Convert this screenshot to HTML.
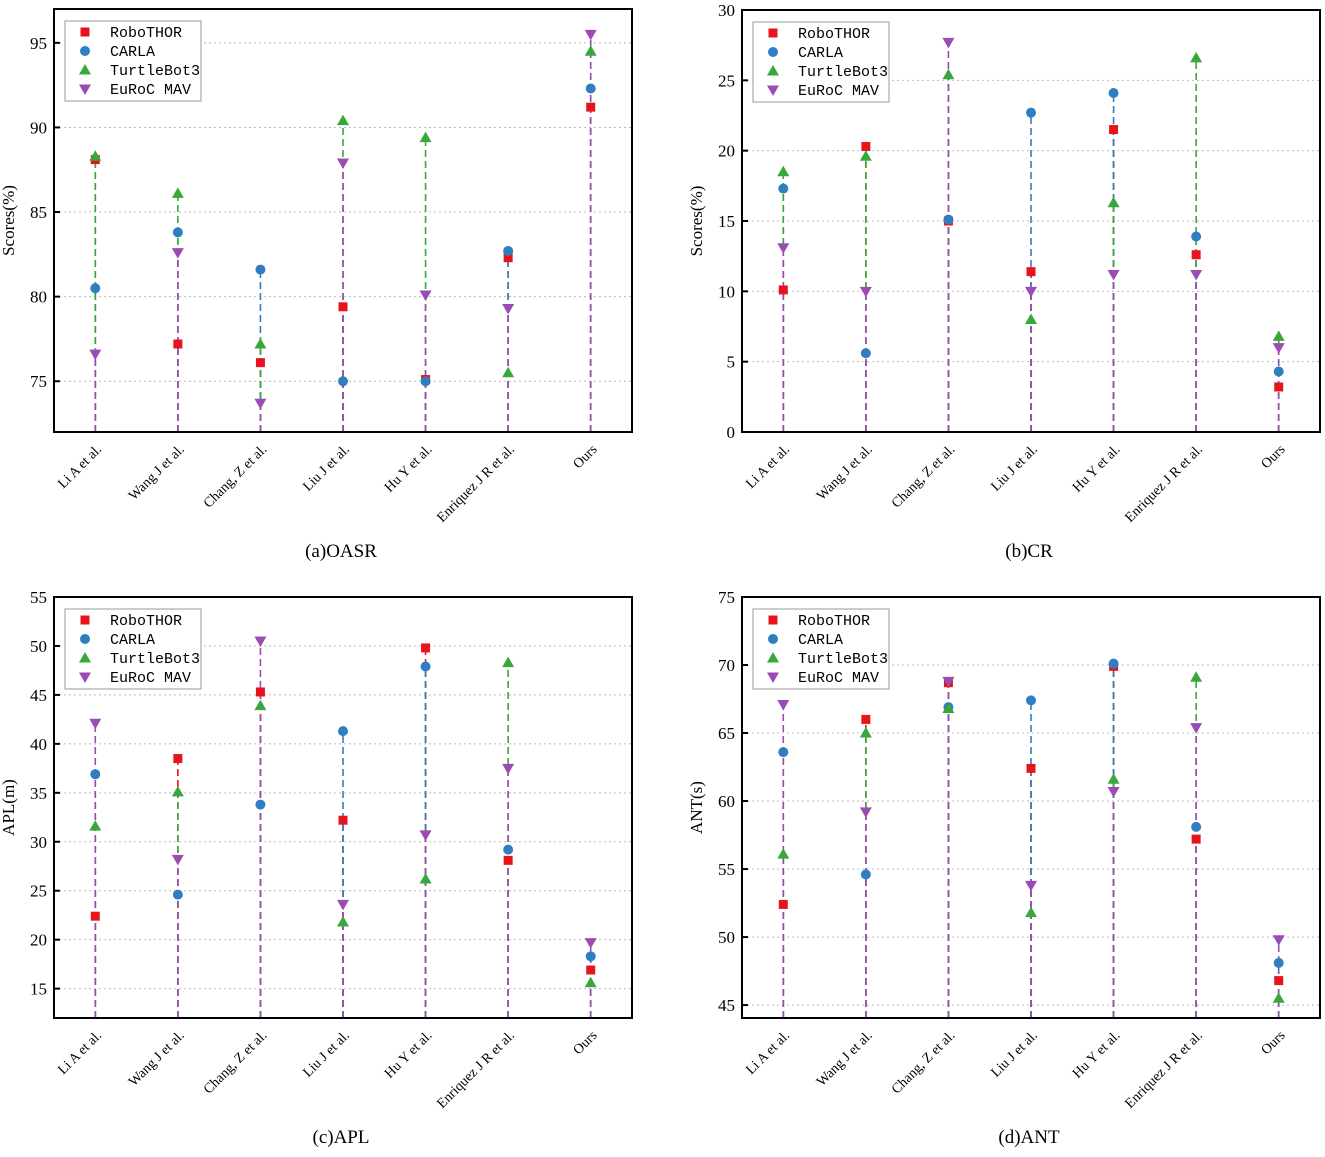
<!DOCTYPE html>
<html><head><meta charset="utf-8"><style>
body{margin:0;background:#fff;}
svg text{font-family:"Liberation Serif",serif;}
</style></head><body>
<svg id="fig" width="1325" height="1152" viewBox="0 0 1325 1152" xmlns="http://www.w3.org/2000/svg"></svg>
<script>
const categories = ["Li A et al.","Wang J et al.","Chang, Z et al.","Liu J et al.","Hu Y et al.","Enriquez J R et al.","Ours"];
const seriesNames = ["RoboTHOR","CARLA","TurtleBot3","EuRoC MAV"];
// (a) OASR
const oasrRobo   = [88.1,77.2,76.1,79.4,75.1,82.3,91.2];
const oasrCarla  = [80.5,83.8,81.6,75.0,75.0,82.7,92.3];
const oasrTurtle = [88.3,86.1,77.2,90.4,89.4,75.5,94.5];
const oasrEuroc  = [76.6,82.6,73.7,87.9,80.1,79.3,95.5];
const oasrTicks  = [75,80,85,90,95];
// (b) CR
const crRobo   = [10.1,20.3,15.0,11.4,21.5,12.6,3.2];
const crCarla  = [17.3,5.6,15.1,22.7,24.1,13.9,4.3];
const crTurtle = [18.5,19.6,25.4,8.0,16.3,26.6,6.8];
const crEuroc  = [13.1,10.0,27.7,10.0,11.2,11.2,6.0];
const crTicks  = [0,5,10,15,20,25,30];
// (c) APL
const aplRobo   = [22.4,38.5,45.3,32.2,49.8,28.1,16.9];
const aplCarla  = [36.9,24.6,33.8,41.3,47.9,29.2,18.3];
const aplTurtle = [31.6,35.1,43.9,21.8,26.2,48.3,15.6];
const aplEuroc  = [42.1,28.2,50.5,23.6,30.7,37.5,19.7];
const aplTicks  = [15,20,25,30,35,40,45,50,55];
// (d) ANT
const antRobo   = [52.4,66.0,68.7,62.4,69.9,57.2,46.8];
const antCarla  = [63.6,54.6,66.9,67.4,70.1,58.1,48.1];
const antTurtle = [56.1,65.0,66.8,51.8,61.6,69.1,45.5];
const antEuroc  = [67.1,59.2,68.8,53.8,60.7,65.4,49.8];
const antTicks  = [45,50,55,60,65,70,75];

const colors = ["#e8141c","#2f7ec2","#38a83a","#9a4cb3"];
const NS = "http://www.w3.org/2000/svg";
const svg = document.getElementById("fig");
function mk(tag, attrs, parent){
  const e = document.createElementNS(NS, tag);
  for (const k in attrs) e.setAttribute(k, attrs[k]);
  (parent||svg).appendChild(e);
  return e;
}
function marker(g, si, cx, cy){
  const c = colors[si]; let m;
  if (si===0) m = mk("rect",{x:cx-4.5,y:cy-4.5,width:9,height:9,fill:c},g);
  else if (si===1) m = mk("circle",{cx:cx,cy:cy,r:5,fill:c},g);
  else if (si===2) m = mk("polygon",{points:`${cx},${cy-6} ${cx-6},${cy+4.5} ${cx+6},${cy+4.5}`,fill:c},g);
  else m = mk("polygon",{points:`${cx},${cy+6} ${cx-6},${cy-4.5} ${cx+6},${cy-4.5}`,fill:c},g);
  return m;
}
function panel(key, box, ymin, ymax, ticks, series, ylabel, title){
  const g = mk("g",{});
  
  
  const L=box[0],T=box[1],R=box[2],B=box[3];
  const yS = v => B - (v-ymin)/(ymax-ymin)*(B-T);
  const step = (R-L)/categories.length;
  const xS = i => L + step*(i+0.5);
  ticks.forEach(t=>{
    const y=yS(t);
    const gl = mk("line",{x1:L,x2:R,y1:y,y2:y,stroke:"#bbb","stroke-width":1,"stroke-dasharray":"2,3"},g);
    
    
    mk("line",{x1:L,x2:L+6,y1:y,y2:y,stroke:"#000","stroke-width":2},g);
    const tl = mk("text",{x:L-7,y:y+6,"text-anchor":"end","font-size":17},g);
    tl.textContent = t;
    
    
  });
  series.forEach((vals,si)=>{
    vals.forEach((v,i)=>{
      const st = mk("line",{x1:xS(i),x2:xS(i),y1:B,y2:yS(v),stroke:colors[si],"stroke-width":1.6,"stroke-dasharray":"7,4"},g);
      
      
    });
  });
  series.forEach((vals,si)=>{
    vals.forEach((v,i)=>{
      const m = marker(g, si, xS(i), yS(v));
      
      
    });
  });
  const fr = mk("rect",{x:L,y:T,width:R-L,height:B-T,fill:"none",stroke:"#000","stroke-width":2},g);
  
  
  categories.forEach((c,i)=>{
    const x=xS(i)+7, y=B+18;
    const t = mk("text",{x:x,y:y,"text-anchor":"end","font-size":14,transform:`rotate(-45 ${x} ${y})`},g);
    t.textContent=c;
    
    
  });
  const yl = mk("text",{x:0,y:0,"text-anchor":"middle","font-size":17,transform:`translate(${L-40} ${(T+B)/2}) rotate(-90)`},g);
  yl.textContent = ylabel;
  
  
  const tt = mk("text",{x:(L+R)/2-2,y:B+125,"text-anchor":"middle","font-size":19},g);
  tt.textContent = title;
  
  
  const lg = mk("g",{},g);
  
  
  mk("rect",{x:L+11,y:T+12,width:136,height:80,fill:"#fff",stroke:"#999","stroke-width":1},lg);
  seriesNames.forEach((n,si)=>{
    const y = T+23+si*19;
    marker(lg, si, L+31, y);
    const lt = mk("text",{x:L+56,y:y+5,"font-size":15,style:'font-family:"Liberation Mono",monospace'},lg);
    lt.textContent = n;
    
    
  });
}
panel("oasr",[54,9,632,432],72,97,oasrTicks,[oasrRobo,oasrCarla,oasrTurtle,oasrEuroc],"Scores(%)","(a)OASR");
panel("cr",[742,10,1320,432],0,30,crTicks,[crRobo,crCarla,crTurtle,crEuroc],"Scores(%)","(b)CR");
panel("apl",[54,597,632,1018],12,55,aplTicks,[aplRobo,aplCarla,aplTurtle,aplEuroc],"APL(m)","(c)APL");
panel("ant",[742,597,1320,1018],44.05,75,antTicks,[antRobo,antCarla,antTurtle,antEuroc],"ANT(s)","(d)ANT");
</script>
</body></html>
